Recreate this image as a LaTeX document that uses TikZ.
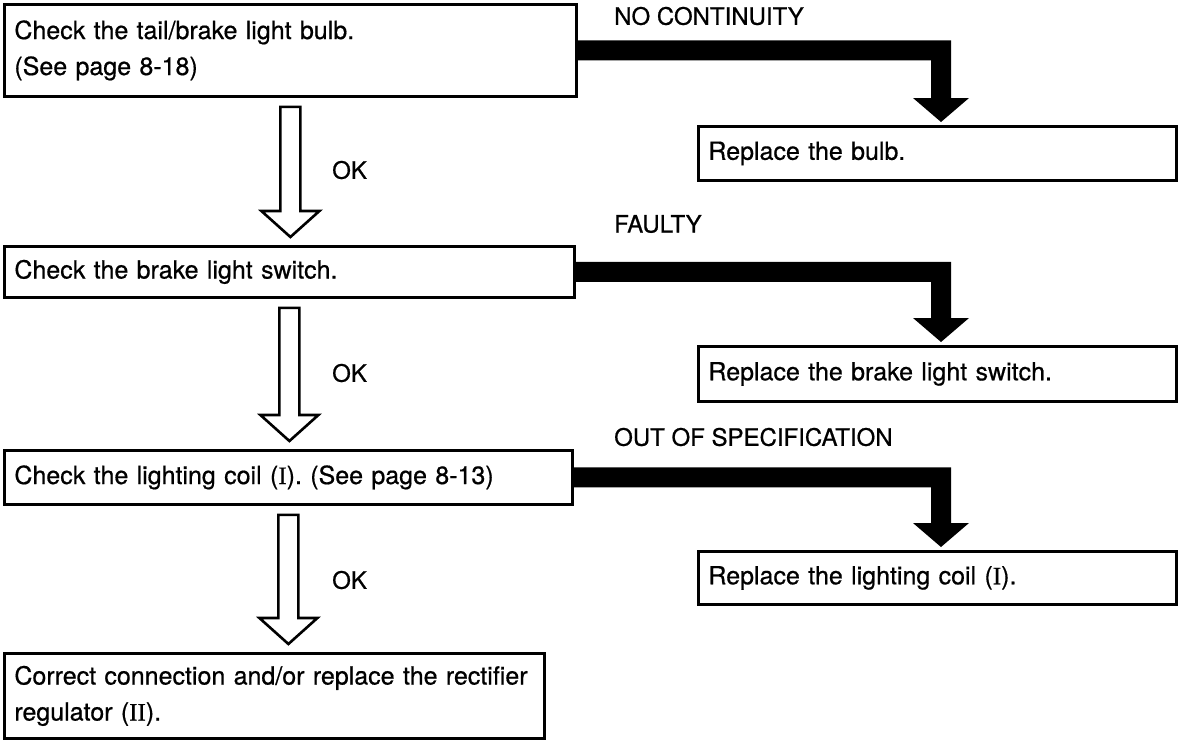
\documentclass[tikz,border=0pt]{standalone}
\usepackage{fontspec}
\setmainfont[FakeBold=0.6,AutoFakeBold=0.6]{TeX Gyre Heros}
\newfontfamily\romfont[FakeBold=0.6,AutoFakeBold=0.6]{Liberation Serif}
\newcommand\rnum[1]{{\romfont\bfseries #1}}
\usetikzlibrary{calc}
\begin{document}
\begin{tikzpicture}[x=1pt,y=-1pt,
  box/.style={draw,line width=2.8pt,anchor=north west,inner xsep=10pt,inner ysep=0pt,
    align=left,font=\fontsize{25}{36}\selectfont\bfseries},
  lbl/.style={anchor=west,inner sep=0pt,font=\fontsize{24}{28}\selectfont\bfseries},
  bar/.style={fill=black},
  hollow/.style={draw,line width=2.6pt,fill=white,line join=miter}]
\useasboundingbox (0,0) rectangle (1189,740);

% check steps (left column)
\node[box,text width=552pt,minimum height=92pt] (b1) at (3,3)
  {Check the tail/brake light bulb.\\(See page 8-18)};
\node[box,text width=550pt,minimum height=51pt] (b2) at (3,245)
  {Check the brake light switch.};
\node[box,text width=548pt,minimum height=54pt] (b3) at (3,449)
  {Check the lighting coil (\rnum{I}). (See page 8-13)};
\node[box,text width=520pt,minimum height=85pt] (b4) at (3,652)
  {Correct connection and/or replace the rectifier\\regulator (\rnum{II}).};

% remedies (right column)
\node[box,text width=458pt,minimum height=54pt] (r1) at (697,125) {Replace the bulb.};
\node[box,text width=458pt,minimum height=55pt] (r2) at (697,345) {Replace the brake light switch.};
\node[box,text width=458pt,minimum height=53pt] (r3) at (697,550) {Replace the lighting coil (\rnum{I}).};

% branch labels
\node[lbl] (l1) at (614,16) {NO CONTINUITY};
\node[lbl] (l2) at (614,224) {FAULTY};
\node[lbl] (l3) at (614,437) {OUT OF SPECIFICATION};
\node[lbl] (k1) at (332,170) {OK};
\node[lbl] (k2) at (332,373) {OK};
\node[lbl] (k3) at (332,580) {OK};

% solid elbow arrows to the remedies
\foreach \s/\t in {b1/r1,b2/r2,b3/r3}{
  \fill[bar] let \p1=(\s.east), \p2=($(\t.north west)+(244,-3)$) in
    (\x1,\y1+10pt) -- (\x2+10pt,\y1+10pt) -- (\x2+10pt,\y2+24pt) -- (\x2+28pt,\y2+24pt)
    -- (\x2,\y2) -- (\x2-28pt,\y2+24pt) -- (\x2-10pt,\y2+24pt) -- (\x2-10pt,\y1-10pt)
    -- (\x1,\y1-10pt) -- cycle;
}

% hollow OK arrows down the left column
\foreach \s/\t in {b1/b2,b2/b3,b3/b4}{
  \draw[hollow] let \p1=(\s.south), \p2=(\t.north) in
    (\x1-10pt,\y1-9pt) -- (\x1+10pt,\y1-9pt) -- (\x1+10pt,\y2+34pt) -- (\x1+29pt,\y2+34pt)
    -- (\x1,\y2+8pt) -- (\x1-29pt,\y2+34pt) -- (\x1-10pt,\y2+34pt) -- cycle;
}
\end{tikzpicture}
\end{document}
